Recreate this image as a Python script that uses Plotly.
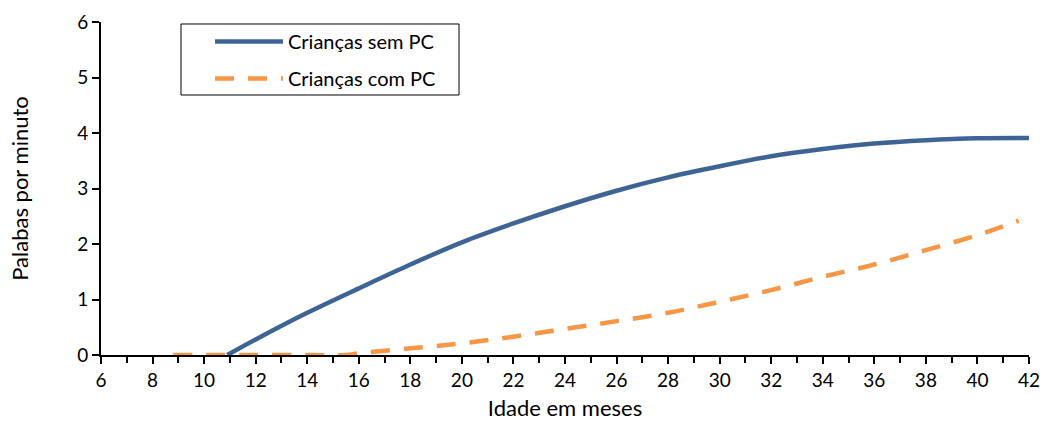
import plotly.graph_objects as go

# Data
ages_sem = [10.9, 12, 14, 16, 18, 20, 22, 24, 26, 28, 30, 32, 34, 36, 38, 40, 42]
vals_sem = [0, 0.28, 0.76, 1.20, 1.63, 2.03, 2.37, 2.68, 2.96, 3.20, 3.40, 3.58, 3.71, 3.81, 3.87, 3.905, 3.91]

ages_com = [8.8, 10, 12, 14, 15.5, 16, 18, 20, 22, 24, 26, 28, 30, 32, 34, 36, 38, 40, 41.6]
vals_com = [0, 0, 0, 0, 0, 0.03, 0.12, 0.21, 0.33, 0.47, 0.61, 0.76, 0.96, 1.17, 1.41, 1.63, 1.89, 2.16, 2.42]

name_sem = "Crianças sem PC"
name_com = "Crianças com PC"
x_title = "Idade em meses"
y_title = "Palabas por minuto"

FONT = "Lato"

fig = go.Figure()
fig.add_trace(go.Scatter(
    x=ages_sem, y=vals_sem, mode="lines", name=name_sem, legendgroup="a",
    line=dict(color="#3E6496", width=4.5, shape="spline", smoothing=0.8),
))
fig.add_trace(go.Scatter(
    x=ages_com, y=vals_com, mode="lines", name=name_com, legendgroup="b",
    line=dict(color="#F79646", width=4.5, shape="spline", smoothing=1.0, dash="19px,14px"),
))

fig.update_layout(
    width=1040, height=421,
    margin=dict(l=101, r=11, t=22, b=66, autoexpand=False),
    paper_bgcolor="white", plot_bgcolor="white",
    font=dict(family=FONT, size=19, color="black"),
    showlegend=True,
    legend=dict(
        x=0.1175, y=1.0, xanchor="left", yanchor="top",
        borderwidth=0, bgcolor="rgba(0,0,0,0)",
        font=dict(family=FONT, size=20, color="black"),
        itemwidth=68, tracegroupgap=8,
    ),
    shapes=[dict(type="rect", xref="paper", yref="paper",
                 x0=0.0862, x1=0.3858, y0=0.7808, y1=0.994,
                 line=dict(color="black", width=1), fillcolor="rgba(0,0,0,0)", layer="above")],
)
fig.update_xaxes(
    range=[6, 42], tickmode="linear", tick0=6, dtick=2, automargin=False,
    ticklabeloverflow="allow",
    showline=True, linecolor="black", linewidth=2,
    ticks="outside", ticklen=7, tickwidth=2, tickcolor="black",
    minor=dict(dtick=1, tick0=6, ticks="outside", ticklen=6, tickwidth=2, tickcolor="black"),
    showgrid=False, zeroline=False, layer="below traces",
    title=dict(text=x_title, standoff=14, font=dict(family=FONT, size=22)),
    tickfont=dict(family=FONT, size=19),
)
fig.update_yaxes(
    range=[0, 6], tickmode="linear", tick0=0, dtick=1, automargin=False,
    showline=True, linecolor="black", linewidth=2,
    ticks="outside", ticklen=7, tickwidth=2, tickcolor="black",
    showgrid=False, zeroline=False, layer="below traces",
    title=dict(text=y_title, standoff=42, font=dict(family=FONT, size=22)),
    tickfont=dict(family=FONT, size=19),
)

fig.write_html(
    "out.html",
    config={"displayModeBar": False},
    post_script="document.body.style.margin='0';document.body.style.overflow='hidden';",
)
